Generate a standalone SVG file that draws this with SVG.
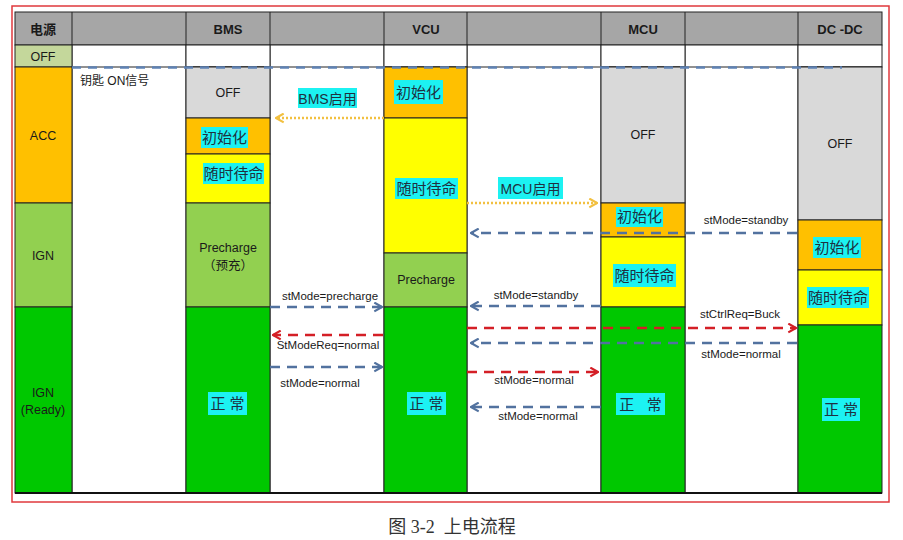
<svg xmlns="http://www.w3.org/2000/svg" width="903" height="540" viewBox="0 0 903 540">
<defs>
<style>
.t{font-family:"Liberation Sans","Noto Sans CJK SC",sans-serif;fill:#1a1a1a;text-anchor:middle}
.h{font-size:13px;font-weight:bold}
.s{font-size:12.5px}
.cn{font-size:15px;fill:#1f3040}
.lb{font-size:11.5px}
.cell{stroke:#222;stroke-width:1}
.hl{fill:#1cf2f2}
.gray{fill:#d9d9d9}
.org{fill:#ffc000}
.yel{fill:#ffff00}
.lg{fill:#92d050}
.gr{fill:#00c800}
.blue{fill:none;stroke:#52729f;stroke-width:2.5;stroke-dasharray:10 7}
.red{fill:none;stroke:#d41f26;stroke-width:2.5;stroke-dasharray:10 7}
.dot{fill:none;stroke:#f2c040;stroke-width:2.5;stroke-dasharray:2 2}
</style>
<marker id="ab" viewBox="0 0 10 10" refX="9" refY="5" markerWidth="4.4" markerHeight="4.4" orient="auto-start-reverse" markerUnits="strokeWidth"><polyline points="2,1 9,5 2,9" fill="none" stroke="#52729f" stroke-width="2"/></marker>
<marker id="ar" viewBox="0 0 10 10" refX="9" refY="5" markerWidth="4.4" markerHeight="4.4" orient="auto-start-reverse" markerUnits="strokeWidth"><polyline points="2,1 9,5 2,9" fill="none" stroke="#d41f26" stroke-width="2"/></marker>
<marker id="ay" viewBox="0 0 10 10" refX="9" refY="5" markerWidth="4.4" markerHeight="4.4" orient="auto-start-reverse" markerUnits="strokeWidth"><polyline points="2,1 9,5 2,9" fill="none" stroke="#f2c040" stroke-width="2"/></marker>
</defs>
<rect width="903" height="540" fill="#fff"/>
<rect x="12" y="6" width="877" height="496" fill="none" stroke="#e0383c" stroke-width="1.5"/>

<g id="header">
<rect x="15" y="12" width="867" height="33" fill="#a6a6a6" class="cell"/>
<g class="cell"><line x1="72" y1="12" x2="72" y2="45"/><line x1="186" y1="12" x2="186" y2="45"/><line x1="270" y1="12" x2="270" y2="45"/><line x1="384" y1="12" x2="384" y2="45"/><line x1="467" y1="12" x2="467" y2="45"/><line x1="601" y1="12" x2="601" y2="45"/><line x1="685" y1="12" x2="685" y2="45"/><line x1="798" y1="12" x2="798" y2="45"/></g>
<text class="t h" x="43" y="34">电源</text>
<text class="t h" x="228" y="34">BMS</text>
<text class="t h" x="426" y="34">VCU</text>
<text class="t h" x="643" y="34">MCU</text>
<text class="t h" x="840" y="34">DC -DC</text>
</g>

<g id="blank-cols">
<rect x="72" y="45" width="114" height="448" fill="#fff" class="cell"/>
<rect x="270" y="45" width="114" height="448" fill="#fff" class="cell"/>
<rect x="467" y="45" width="134" height="448" fill="#fff" class="cell"/>
<rect x="685" y="45" width="113" height="448" fill="#fff" class="cell"/>
<rect x="186" y="45" width="84" height="22" fill="#fff" class="cell"/>
<rect x="384" y="45" width="83" height="22" fill="#fff" class="cell"/>
<rect x="601" y="45" width="84" height="22" fill="#fff" class="cell"/>
<rect x="798" y="45" width="84" height="22" fill="#fff" class="cell"/>
<line x1="72" y1="67" x2="882" y2="67" class="cell"/>
<text class="t" x="80" y="85" style="font-size:12px;text-anchor:start">钥匙 ON信号</text>
</g>

<g id="power">
<rect x="15" y="45" width="57" height="22" fill="#c4d79b" class="cell"/>
<text class="t s" x="43" y="61">OFF</text>
<rect x="15" y="67" width="57" height="136" class="org cell"/>
<text class="t s" x="43" y="140">ACC</text>
<rect x="15" y="203" width="57" height="104" class="lg cell"/>
<text class="t s" x="43" y="260">IGN</text>
<rect x="15" y="307" width="57" height="186" class="gr cell"/>
<text class="t s" x="43" y="397">IGN</text>
<text class="t s" x="43" y="414">(Ready)</text>
</g>

<g id="bms">
<rect x="186" y="67" width="84" height="51" class="gray cell"/>
<text class="t s" x="228" y="97">OFF</text>
<rect x="186" y="118" width="84" height="36" class="org cell"/>
<rect x="201" y="127" width="47" height="21" class="hl"/>
<text class="t cn" x="224.5" y="143">初始化</text>
<rect x="186" y="154" width="84" height="49" class="yel cell"/>
<rect x="203" y="163" width="61" height="21" class="hl"/>
<text class="t cn" x="233.5" y="179">随时待命</text>
<rect x="186" y="203" width="84" height="104" class="lg cell"/>
<text class="t s" x="228" y="252">Precharge</text>
<text class="t s" x="228" y="270">（预充）</text>
<rect x="186" y="307" width="84" height="186" class="gr cell"/>
<rect x="208" y="392" width="39" height="23" class="hl"/>
<text class="t cn" x="227.5" y="409">正 常</text>
</g>

<g id="vcu">
<rect x="384" y="67" width="83" height="51" class="org cell"/>
<rect x="394" y="80" width="49" height="24" class="hl"/>
<text class="t cn" x="418.5" y="98">初始化</text>
<rect x="384" y="118" width="83" height="135" class="yel cell"/>
<rect x="395" y="178" width="63" height="21" class="hl"/>
<text class="t cn" x="426.5" y="194">随时待命</text>
<rect x="384" y="253" width="83" height="54" class="lg cell"/>
<text class="t s" x="426" y="284">Precharge</text>
<rect x="384" y="307" width="83" height="186" class="gr cell"/>
<rect x="407" y="392" width="39" height="23" class="hl"/>
<text class="t cn" x="426.5" y="409">正 常</text>
</g>

<g id="mcu">
<rect x="601" y="67" width="84" height="136" class="gray cell"/>
<text class="t s" x="643" y="139">OFF</text>
<rect x="601" y="203" width="84" height="34" class="org cell"/>
<rect x="616" y="207" width="47" height="20" class="hl"/>
<text class="t cn" x="639.5" y="222">初始化</text>
<rect x="601" y="237" width="84" height="70" class="yel cell"/>
<rect x="613" y="264" width="63" height="23" class="hl"/>
<text class="t cn" x="644.5" y="281">随时待命</text>
<rect x="601" y="307" width="84" height="186" class="gr cell"/>
<rect x="616" y="393" width="49" height="22" class="hl"/>
<text class="t cn" x="640.5" y="410" xml:space="preserve">正   常</text>
</g>

<g id="dcdc">
<rect x="798" y="67" width="84" height="153" class="gray cell"/>
<text class="t s" x="840" y="148">OFF</text>
<rect x="798" y="220" width="84" height="50" class="org cell"/>
<rect x="813" y="237" width="48" height="21" class="hl"/>
<text class="t cn" x="837" y="253">初始化</text>
<rect x="798" y="270" width="84" height="55" class="yel cell"/>
<rect x="807" y="287" width="62" height="21" class="hl"/>
<text class="t cn" x="838" y="303">随时待命</text>
<rect x="798" y="325" width="84" height="168" class="gr cell"/>
<rect x="822" y="398" width="38" height="23" class="hl"/>
<text class="t cn" x="841" y="415">正 常</text>
</g>

<line x1="15" y1="493" x2="882" y2="493" stroke="#111" stroke-width="2"/>

<g id="connectors">
<line x1="72" y1="67.5" x2="842" y2="67.5" fill="none" stroke="#5f82b4" stroke-width="2.5" stroke-dasharray="9 7"/>
<line x1="384" y1="118" x2="276" y2="118" class="dot" marker-end="url(#ay)"/>
<rect x="298" y="88" width="59" height="20" class="hl"/>
<text class="t cn" x="327.5" y="104" style="font-size:14px">BMS启用</text>
<line x1="467" y1="203" x2="597" y2="203" class="dot" marker-end="url(#ay)"/>
<rect x="498" y="177" width="65" height="22" class="hl"/>
<text class="t cn" x="530.5" y="194" style="font-size:14px">MCU启用</text>

<line x1="797" y1="233" x2="471" y2="233" class="blue" marker-end="url(#ab)"/>
<text class="t lb" x="746" y="224">stMode=standby</text>
<line x1="270" y1="307" x2="382" y2="307" class="blue" marker-end="url(#ab)"/>
<text class="t lb" x="330" y="300">stMode=precharge</text>
<line x1="601" y1="306" x2="471" y2="306" class="blue" marker-end="url(#ab)"/>
<text class="t lb" x="536" y="299">stMode=standby</text>
<line x1="383" y1="335" x2="273" y2="335" class="red" marker-end="url(#ar)"/>
<text class="t lb" x="328" y="349">StModeReq=normal</text>
<line x1="270" y1="367" x2="382" y2="367" class="blue" marker-end="url(#ab)"/>
<text class="t lb" x="320" y="387">stMode=normal</text>
<line x1="467" y1="328" x2="796" y2="328" class="red" marker-end="url(#ar)"/>
<text class="t lb" x="740" y="318">stCtrlReq=Buck</text>
<line x1="797" y1="343" x2="471" y2="343" class="blue" marker-end="url(#ab)"/>
<text class="t lb" x="741" y="358">stMode=normal</text>
<line x1="467" y1="372" x2="598" y2="372" class="red" marker-end="url(#ar)"/>
<text class="t lb" x="534" y="384">stMode=normal</text>
<line x1="601" y1="407" x2="471" y2="407" class="blue" marker-end="url(#ab)"/>
<text class="t lb" x="538" y="420">stMode=normal</text>
</g>

<text x="452" y="533" xml:space="preserve" style="font-family:'Liberation Serif','Noto Sans CJK SC',serif;font-size:18px;fill:#333;text-anchor:middle">图 3-2  上电流程</text>
</svg>
